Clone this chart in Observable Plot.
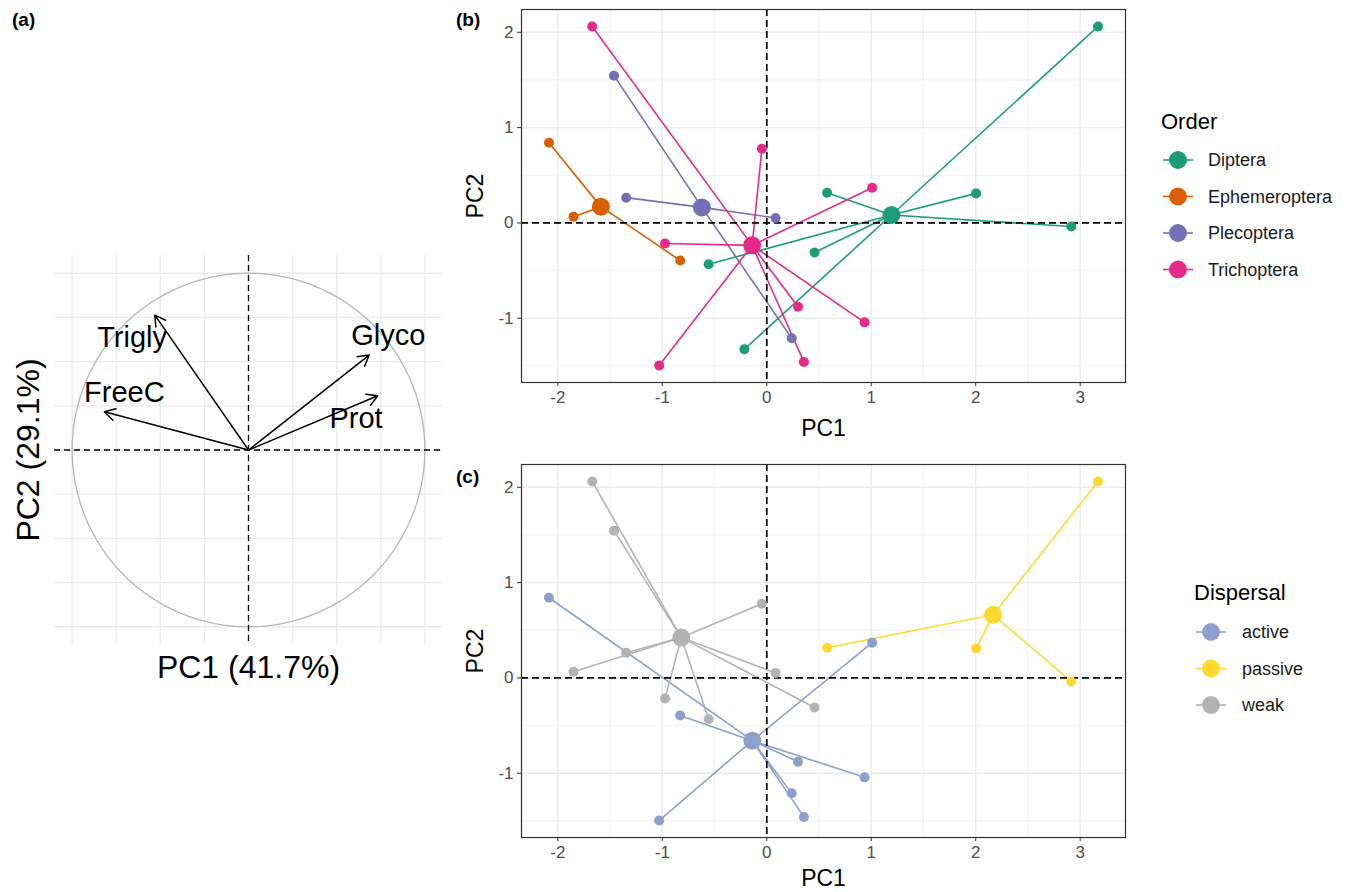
<!DOCTYPE html>
<html><head><meta charset="utf-8">
<script src="https://cdn.jsdelivr.net/npm/d3@7"></script>
<script src="https://cdn.jsdelivr.net/npm/@observablehq/plot@0.6"></script>
<style>
body{margin:0;background:#fff;font-family:"Liberation Sans",Arial,sans-serif;}
#fig{position:relative;width:1349px;height:892px;overflow:hidden;}
#fig > svg{position:absolute;}
</style></head><body><div id="fig"></div>
<script>
// ---------- data ----------
const pc1 = [3.171, 2.004, 2.915, 0.577, 0.457, -0.556, -0.214,
             -2.085, -1.850, -0.829,
             -1.462, -1.346, 0.085, 0.239,
             -1.671, -0.047, 1.009, -0.974, 0.299, 0.936, 0.355, -1.030];
const pc2 = [2.061, 0.310, -0.038, 0.317, -0.310, -0.433, -1.325,
             0.841, 0.066, -0.394,
             1.545, 0.265, 0.052, -1.210,
             2.061, 0.778, 0.370, -0.216, -0.879, -1.043, -1.458, -1.496];
const order = ["Diptera","Diptera","Diptera","Diptera","Diptera","Diptera","Diptera",
               "Ephemeroptera","Ephemeroptera","Ephemeroptera",
               "Plecoptera","Plecoptera","Plecoptera","Plecoptera",
               "Trichoptera","Trichoptera","Trichoptera","Trichoptera","Trichoptera","Trichoptera","Trichoptera","Trichoptera"];
const dispersal = ["passive","passive","passive","passive","weak","weak",null,
                   "active","weak","active",
                   "weak","weak","weak","active",
                   "weak","weak","active","weak","active","active","active","active"];

const orderLevels = ["Diptera","Ephemeroptera","Plecoptera","Trichoptera"];
const orderColors = ["#1B9E77","#D95F02","#7570B3","#E7298A"];
const dispLevels = ["active","passive","weak"];
const dispColors = ["#8DA0CB","#FFD92F","#B3B3B3"];

const loadNames = ["Glyco","Prot","Trigly","FreeC"];
const loadPC1 = [0.684, 0.733, -0.531, -0.817];
const loadPC2 = [0.537, 0.307, 0.763, 0.216];
const labelPC1 = [0.793, 0.610, -0.660, -0.704];
const labelPC2 = [0.644, 0.179, 0.633, 0.325];
const varExplained = [41.7, 29.1];

const xTicks = [-2, -1, 0, 1, 2, 3];
const yTicks = [-1, 0, 1, 2];
const xMinor = [-1.5, -0.5, 0.5, 1.5, 2.5];
const yMinor = [-1.5, -0.5, 0.5, 1.5];
const circMajor = [-1, -0.5, 0, 0.5, 1];
const circMinor = [-0.75, -0.25, 0.25, 0.75];

// ---------- helpers ----------
const fig = document.getElementById("fig");
const FONT = "'Liberation Sans', Arial, sans-serif";
const rows = pc1.map((v, i) => ({pc1: v, pc2: pc2[i], order: order[i], dispersal: dispersal[i]}));
function place(svg, left, top) {
  svg.style.left = left + "px"; svg.style.top = top + "px";
  fig.appendChild(svg);
}
const xe = d3.extent(pc1), ye = d3.extent(pc2);
const xPad = 0.05 * (xe[1] - xe[0]), yPad = 0.05 * (ye[1] - ye[0]);
const xDom = [xe[0] - xPad, xe[1] + xPad], yDom = [ye[0] - yPad, ye[1] + yPad];

// ---------- panel (a) ----------
const loads = loadNames.map((n, i) => ({name: n, x0: 0, y0: 0, x: loadPC1[i], y: loadPC2[i], lx: labelPC1[i], ly: labelPC2[i]}));
const circle = d3.range(0, 361, 2).map(a => ({x: Math.cos(a * Math.PI / 180), y: Math.sin(a * Math.PI / 180)}));
const pa = Plot.plot({
  width: 460, height: 460, marginLeft: 54, marginRight: 18, marginTop: 15, marginBottom: 56,
  x: {domain: [-1.1, 1.1], axis: null},
  y: {domain: [-1.1, 1.1], axis: null},
  style: {fontFamily: FONT, background: "transparent", overflow: "visible"},
  marks: [
    Plot.ruleX(circMinor, {stroke: "#EBEBEB", strokeWidth: 1.2}),
    Plot.ruleY(circMinor, {stroke: "#EBEBEB", strokeWidth: 1.2}),
    Plot.ruleX(circMajor, {stroke: "#EBEBEB", strokeWidth: 1.4}),
    Plot.ruleY(circMajor, {stroke: "#EBEBEB", strokeWidth: 1.4}),
    Plot.line(circle, {x: "x", y: "y", stroke: "#B5B5B5", strokeWidth: 1.3}),
    Plot.ruleX([0], {stroke: "black", strokeWidth: 1.3, strokeDasharray: "6,4"}),
    Plot.ruleY([0], {stroke: "black", strokeWidth: 1.3, strokeDasharray: "6,4"}),
    Plot.arrow(loads, {x1: "x0", y1: "y0", x2: "x", y2: "y", stroke: "black", strokeWidth: 1.5, headLength: 12, headAngle: 60}),
    Plot.text(loads, {x: "lx", y: "ly", text: "name", fontSize: 29, fill: "black"}),
    Plot.text([`PC1 (${varExplained[0]}%)`], {text: d => d, frameAnchor: "bottom", lineAnchor: "middle", textAnchor: "middle", dy: 23, fontSize: 32, fill: "black"}),
    Plot.text([`PC2 (${varExplained[1]}%)`], {text: d => d, frameAnchor: "left", lineAnchor: "middle", textAnchor: "middle", dx: -26, rotate: -90, fontSize: 32, fill: "black"})
  ]
});
place(pa, 0, 240);

// ---------- panels (b) and (c) ----------
function scorePlot(key, levels, colors, titleDy) {
  const data = rows.filter(d => d[key] != null);
  const cent = levels.map(l => {
    const g = data.filter(d => d[key] === l);
    return {grp: l, cx: d3.mean(g, d => d.pc1), cy: d3.mean(g, d => d.pc2)};
  });
  const cmap = new Map(cent.map(c => [c.grp, c]));
  const links = data.map(d => ({...d, grp: d[key], cx: cmap.get(d[key]).cx, cy: cmap.get(d[key]).cy}));
  return Plot.plot({
    width: 690, height: 445, marginLeft: 71, marginRight: 15, marginTop: 9, marginBottom: 63,
    x: {domain: xDom}, y: {domain: yDom},
    color: {domain: levels, range: colors},
    style: {fontFamily: FONT, background: "transparent", overflow: "visible"},
    marks: [
      Plot.ruleX(xMinor, {stroke: "#EFEFEF", strokeWidth: 0.8}),
      Plot.ruleY(yMinor, {stroke: "#EFEFEF", strokeWidth: 0.8}),
      Plot.ruleX(xTicks, {stroke: "#EBEBEB", strokeWidth: 1.4}),
      Plot.ruleY(yTicks, {stroke: "#EBEBEB", strokeWidth: 1.4}),
      Plot.link(links, {x1: "pc1", y1: "pc2", x2: "cx", y2: "cy", stroke: "grp", strokeWidth: 1.6}),
      Plot.ruleX([0], {stroke: "black", strokeWidth: 1.7, strokeDasharray: "7,4"}),
      Plot.ruleY([0], {stroke: "black", strokeWidth: 1.7, strokeDasharray: "7,4"}),
      Plot.dot(links, {x: "pc1", y: "pc2", fill: "grp", r: 5}),
      Plot.dot(cent, {x: "cx", y: "cy", fill: "grp", r: 9}),
      Plot.frame({stroke: "#333333", strokeWidth: 1.2}),
      Plot.axisX({ticks: xTicks, tickSize: 4, tickPadding: 4, fontSize: 17, tickFormat: d => String(d), stroke: "#333333", fill: "#4D4D4D", label: null}),
      Plot.axisY({ticks: yTicks, tickSize: 4, tickPadding: 4, fontSize: 17, tickFormat: d => String(d), stroke: "#333333", fill: "#4D4D4D", label: null}),
      Plot.text(["PC1"], {text: d => d, frameAnchor: "bottom", lineAnchor: "middle", textAnchor: "middle", dy: titleDy, fontSize: 23, fill: "black"}),
      Plot.text(["PC2"], {text: d => d, frameAnchor: "left", lineAnchor: "middle", textAnchor: "middle", dx: -46, rotate: -90, fontSize: 23, fill: "black"})
    ]
  });
}
place(scorePlot("order", orderLevels, orderColors, 46), 450, 0);
place(scorePlot("dispersal", dispLevels, dispColors, 41), 450, 455);

// ---------- legends and panel tags ----------
const ov = d3.create("svg").attr("width", 1349).attr("height", 892)
  .style("left", "0px").style("top", "0px").style("font-family", FONT);
function legend(title, levels, colors, tx, ty, kx, ky0, step, lx) {
  ov.append("text").attr("x", tx).attr("y", ty).attr("dominant-baseline", "central")
    .attr("font-size", 22).text(title);
  levels.forEach((l, i) => {
    const y = ky0 + i * step;
    ov.append("line").attr("x1", kx - 15).attr("x2", kx + 15).attr("y1", y).attr("y2", y)
      .attr("stroke", colors[i]).attr("stroke-width", 1.6);
    ov.append("circle").attr("cx", kx).attr("cy", y).attr("r", 9).attr("fill", colors[i]);
    ov.append("text").attr("x", lx).attr("y", y).attr("dominant-baseline", "central")
      .attr("font-size", 18).attr("fill", "#1a1a1a").text(l);
  });
}
legend("Order", orderLevels, orderColors, 1161, 121, 1178, 160, 36.5, 1208);
legend("Dispersal", dispLevels, dispColors, 1194, 592, 1211, 632, 36.5, 1242);
[["(a)", 12, 19], ["(b)", 456, 19], ["(c)", 456, 476]].forEach(([t, x, y]) => {
  ov.append("text").attr("x", x).attr("y", y).attr("dominant-baseline", "central")
    .attr("font-size", 19).attr("font-weight", "bold").text(t);
});
fig.appendChild(ov.node());
</script></body></html>
